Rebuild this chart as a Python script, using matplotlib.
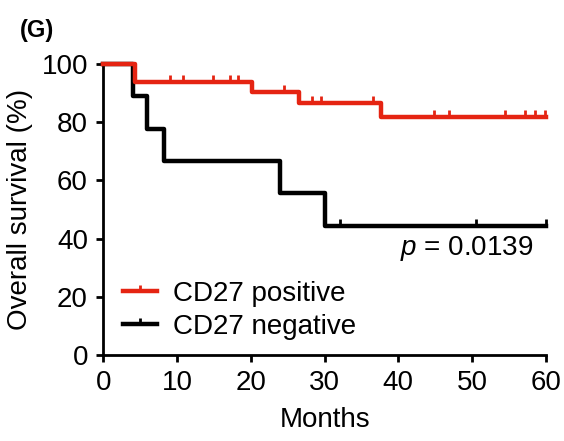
import matplotlib
matplotlib.use('Agg')
import matplotlib.pyplot as plt
from matplotlib.lines import Line2D

plt.rcParams['font.family'] = ['Liberation Sans', 'DejaVu Sans']
plt.rcParams['mathtext.fontset'] = 'custom'
plt.rcParams['mathtext.it'] = 'Liberation Sans:italic'
plt.rcParams['mathtext.rm'] = 'Liberation Sans'

# Kaplan-Meier steps (months, survival %)
pos_times = [0, 4.3, 20.2, 26.6, 37.7, 60]
pos_surv = [100, 93.8, 90.5, 86.7, 81.9, 81.9]
pos_censor_t = [9.1, 10.8, 14.9, 17.2, 18.2, 24.5, 28.3, 29.5, 36.6, 44.8, 46.9, 54.5, 57.2, 58.5, 59.9]
pos_censor_s = [93.8] * 5 + [90.5] + [86.7] * 3 + [81.9] * 6

neg_times = [0, 4.0, 5.9, 8.3, 24.0, 30.0, 60]
neg_surv = [100, 88.9, 77.8, 66.7, 55.6, 44.4, 44.4]
neg_censor_t = [32.1, 50.5, 60]
neg_censor_s = [44.4, 44.4, 44.4]

red = '#e52412'
fs = 20

fig = plt.figure(figsize=(5.64, 4.41), dpi=100)
ax = fig.add_axes([0.183, 0.195, 0.785, 0.66])

ax.step(pos_times, pos_surv, where='post', color=red, lw=3.2, clip_on=False, zorder=3)
ax.plot(pos_censor_t, pos_censor_s, ls='none', marker=2, ms=5, mew=2, color=red, clip_on=False, zorder=3)
ax.step(neg_times, neg_surv, where='post', color='black', lw=3.2, clip_on=False, zorder=2)
ax.plot(neg_censor_t, neg_censor_s, ls='none', marker=2, ms=5, mew=2, color='black', clip_on=False, zorder=2)

ax.set_xlim(0, 60)
ax.set_ylim(0, 100)
ax.set_xticks(range(0, 61, 10))
ax.set_yticks(range(0, 101, 20))
ax.tick_params(labelsize=fs, width=2, length=5, pad=6)
for s in ['top', 'right']:
    ax.spines[s].set_visible(False)
for s in ['left', 'bottom']:
    ax.spines[s].set_linewidth(2)

ax.set_xlabel('Months', fontsize=fs, labelpad=8)
ax.set_ylabel('Overall survival (%)', fontsize=fs, labelpad=6)

ax.text(58.3, 36.5, r'$\it{p}$ = 0.0139', fontsize=fs, ha='right', va='center')

handles = [Line2D([], [], color=red, lw=3.2, marker=2, ms=4, mew=2),
           Line2D([], [], color='black', lw=3.2, marker=2, ms=4, mew=2)]
ax.legend(handles, ['CD27 positive', 'CD27 negative'], loc='lower left',
          bbox_to_anchor=(0.0, -0.015), frameon=False, fontsize=fs,
          handlelength=1.25, handletextpad=0.55, labelspacing=0.25, borderpad=0.2)

fig.text(0.035, 0.915, '(G)', fontsize=17, fontweight='bold')

fig.savefig('out.png', dpi=100)
